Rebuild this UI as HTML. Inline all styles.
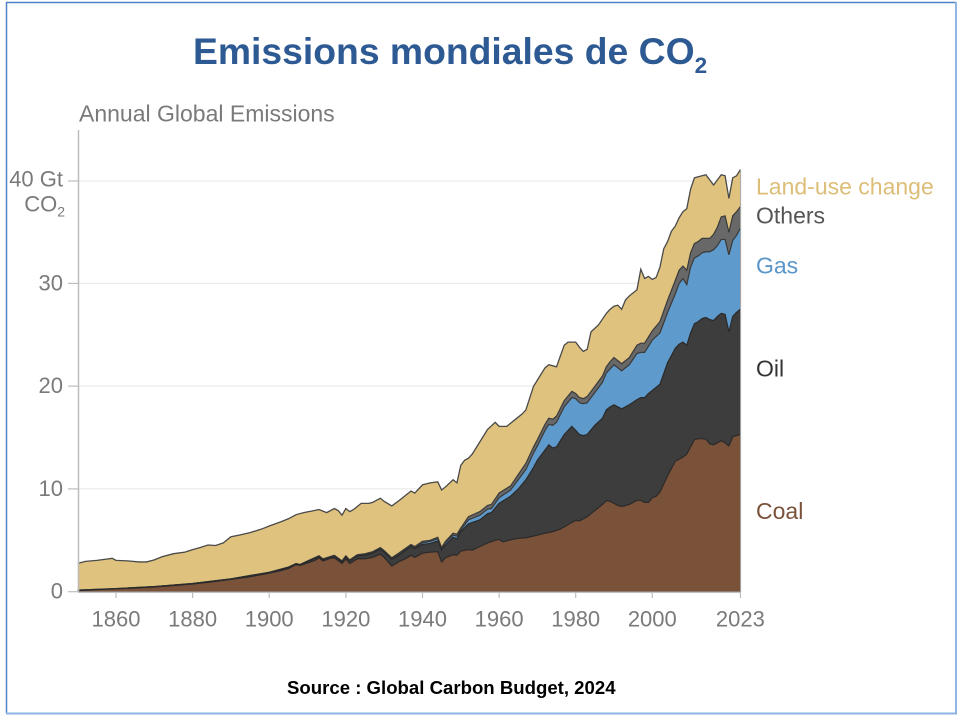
<!DOCTYPE html>
<html>
<head>
<meta charset="utf-8">
<style>
  html, body { margin:0; padding:0; background:#fff; }
  body { width:960px; height:720px; overflow:hidden; }
  svg { display:block; }
  .t { font-family:"Liberation Sans", Arial, sans-serif; }
</style>
</head>
<body>
<svg width="960" height="720" viewBox="0 0 960 720" xmlns="http://www.w3.org/2000/svg">
  <!-- frame -->
  <rect x="0" y="0" width="960" height="720" fill="#ffffff"/>
  <line x1="6" y1="2.5" x2="956" y2="2.5" stroke="#4F81C7" stroke-width="1.5"/>
  <line x1="6.5" y1="2" x2="6.5" y2="713" stroke="#4F81C7" stroke-width="1.5"/>
  <line x1="956" y1="2" x2="956" y2="714" stroke="#8FB3E3" stroke-width="2"/>
  <line x1="6" y1="713.5" x2="957" y2="713.5" stroke="#8FB3E3" stroke-width="2"/>

  <!-- title -->
  <text class="t" x="193" y="64" font-size="37.3" font-weight="bold" fill="#2E5A94">Emissions mondiales de CO<tspan font-size="22.5" dy="9">2</tspan></text>

  <!-- subtitle -->
  <text class="t" x="79" y="121.7" font-size="23" fill="#7a7a7a">Annual Global Emissions</text>

  <!-- gridlines -->
  <g stroke="#ececec" stroke-width="1.2">
    <line x1="79" y1="181" x2="740" y2="181"/>
    <line x1="79" y1="283.4" x2="740" y2="283.4"/>
    <line x1="79" y1="386.1" x2="740" y2="386.1"/>
    <line x1="79" y1="488.9" x2="740" y2="488.9"/>
  </g>

  <!-- stacked areas -->
  <g transform="matrix(3.8306 0 0 -10.27 -7008.91 591.7)">
    <!-- Land-use change (total) -->
    <polygon fill="#DFC27E" points="1850,0 1850,2.76 1852,2.95 1855,3.05 1858,3.2 1859,3.25 1860,3.05 1863,3.0 1866,2.9 1868,2.9 1870,3.1 1872,3.4 1875,3.7 1878,3.85 1880,4.1 1882,4.3 1884,4.55 1886,4.5 1888,4.75 1890,5.35 1892,5.5 1895,5.75 1898,6.1 1900,6.4 1903,6.8 1905,7.1 1907,7.5 1909,7.7 1911,7.85 1913,8.0 1915,7.7 1917,8.1 1918,7.9 1919,7.45 1920,8.1 1921,7.8 1922,8.0 1924,8.6 1926,8.6 1927,8.7 1928,8.9 1929,9.1 1930,8.8 1932,8.35 1934,8.9 1936,9.5 1937,9.8 1938,9.6 1940,10.4 1942,10.6 1944,10.7 1945,9.9 1946,10.2 1948,10.9 1949,10.6 1950,12.3 1951,12.8 1952,13.0 1953,13.4 1955,14.6 1957,15.8 1959,16.5 1960,16.1 1962,16.1 1964,16.7 1966,17.3 1967,17.7 1969,20.0 1970,20.6 1972,21.8 1973,22.1 1975,21.9 1977,24.0 1978,24.3 1980,24.3 1981,23.8 1982,23.4 1983,23.6 1984,25.3 1986,26.0 1988,27.1 1989,27.5 1990,27.8 1991,27.9 1992,27.5 1993,28.4 1994,28.8 1995,29.1 1996,29.4 1997,31.4 1998,30.5 1999,30.7 2000,30.4 2001,30.6 2002,31.6 2003,33.4 2004,34.1 2005,35.1 2006,35.6 2007,36.4 2008,37.0 2009,37.3 2010,39.2 2011,40.3 2012,40.4 2013,40.5 2014,40.6 2015,40.1 2016,39.6 2017,40.1 2018,40.6 2019,40.5 2020,38.3 2021,40.3 2022,40.5 2023,41.1 2023,0"/>
    <polyline fill="none" stroke="#4a4a4a" stroke-width="1.3" vector-effect="non-scaling-stroke" points="1850,2.76 1852,2.95 1855,3.05 1858,3.2 1859,3.25 1860,3.05 1863,3.0 1866,2.9 1868,2.9 1870,3.1 1872,3.4 1875,3.7 1878,3.85 1880,4.1 1882,4.3 1884,4.55 1886,4.5 1888,4.75 1890,5.35 1892,5.5 1895,5.75 1898,6.1 1900,6.4 1903,6.8 1905,7.1 1907,7.5 1909,7.7 1911,7.85 1913,8.0 1915,7.7 1917,8.1 1918,7.9 1919,7.45 1920,8.1 1921,7.8 1922,8.0 1924,8.6 1926,8.6 1927,8.7 1928,8.9 1929,9.1 1930,8.8 1932,8.35 1934,8.9 1936,9.5 1937,9.8 1938,9.6 1940,10.4 1942,10.6 1944,10.7 1945,9.9 1946,10.2 1948,10.9 1949,10.6 1950,12.3 1951,12.8 1952,13.0 1953,13.4 1955,14.6 1957,15.8 1959,16.5 1960,16.1 1962,16.1 1964,16.7 1966,17.3 1967,17.7 1969,20.0 1970,20.6 1972,21.8 1973,22.1 1975,21.9 1977,24.0 1978,24.3 1980,24.3 1981,23.8 1982,23.4 1983,23.6 1984,25.3 1986,26.0 1988,27.1 1989,27.5 1990,27.8 1991,27.9 1992,27.5 1993,28.4 1994,28.8 1995,29.1 1996,29.4 1997,31.4 1998,30.5 1999,30.7 2000,30.4 2001,30.6 2002,31.6 2003,33.4 2004,34.1 2005,35.1 2006,35.6 2007,36.4 2008,37.0 2009,37.3 2010,39.2 2011,40.3 2012,40.4 2013,40.5 2014,40.6 2015,40.1 2016,39.6 2017,40.1 2018,40.6 2019,40.5 2020,38.3 2021,40.3 2022,40.5 2023,41.1"/>

    <!-- Others -->
    <polygon fill="#686868" points="1850,0 1850,0.15 1860,0.3 1870,0.5 1880,0.8 1890,1.25 1900,1.9 1905,2.4 1907,2.75 1908,2.65 1910,3.0 1913,3.5 1914,3.2 1917,3.55 1919,3.0 1920,3.5 1921,3.1 1923,3.6 1925,3.7 1927,3.9 1929,4.3 1930,4.0 1932,3.3 1934,3.8 1937,4.6 1938,4.4 1940,4.9 1942,5.0 1944,5.3 1945,4.3 1946,4.9 1948,5.7 1949,5.6 1950,6.2 1952,7.3 1955,7.8 1957,8.4 1958,8.5 1960,9.6 1963,10.3 1965,11.4 1967,12.5 1969,14.1 1970,14.8 1972,16.3 1973,16.9 1974,16.8 1975,17.1 1977,18.6 1979,19.5 1980,19.3 1981,18.9 1982,18.8 1983,19.0 1985,20.0 1987,21.0 1988,21.9 1989,22.4 1990,22.8 1991,22.5 1992,22.2 1994,22.8 1996,24.0 1997,24.2 1998,24.2 1999,24.8 2000,25.4 2002,26.3 2004,28.4 2006,30.3 2007,31.3 2008,31.7 2009,31.3 2010,33.0 2011,33.9 2012,34.1 2013,34.4 2014,34.4 2015,34.4 2016,34.8 2017,35.5 2018,36.5 2019,36.6 2020,35.0 2021,36.6 2022,37.0 2023,37.5 2023,0"/>
    <polyline fill="none" stroke="#3a3a3a" stroke-width="1.2" vector-effect="non-scaling-stroke" points="1850,0.15 1860,0.3 1870,0.5 1880,0.8 1890,1.25 1900,1.9 1905,2.4 1907,2.75 1908,2.65 1910,3.0 1913,3.5 1914,3.2 1917,3.55 1919,3.0 1920,3.5 1921,3.1 1923,3.6 1925,3.7 1927,3.9 1929,4.3 1930,4.0 1932,3.3 1934,3.8 1937,4.6 1938,4.4 1940,4.9 1942,5.0 1944,5.3 1945,4.3 1946,4.9 1948,5.7 1949,5.6 1950,6.2 1952,7.3 1955,7.8 1957,8.4 1958,8.5 1960,9.6 1963,10.3 1965,11.4 1967,12.5 1969,14.1 1970,14.8 1972,16.3 1973,16.9 1974,16.8 1975,17.1 1977,18.6 1979,19.5 1980,19.3 1981,18.9 1982,18.8 1983,19.0 1985,20.0 1987,21.0 1988,21.9 1989,22.4 1990,22.8 1991,22.5 1992,22.2 1994,22.8 1996,24.0 1997,24.2 1998,24.2 1999,24.8 2000,25.4 2002,26.3 2004,28.4 2006,30.3 2007,31.3 2008,31.7 2009,31.3 2010,33.0 2011,33.9 2012,34.1 2013,34.4 2014,34.4 2015,34.4 2016,34.8 2017,35.5 2018,36.5 2019,36.6 2020,35.0 2021,36.6 2022,37.0 2023,37.5"/>

    <!-- Gas -->
    <polygon fill="#5E9ACB" points="1850,0 1850,0.15 1860,0.3 1870,0.5 1880,0.8 1890,1.25 1900,1.88 1905,2.38 1907,2.72 1908,2.62 1910,2.97 1913,3.46 1914,3.16 1917,3.5 1919,2.95 1920,3.45 1921,3.05 1923,3.55 1925,3.63 1927,3.83 1929,4.2 1930,3.9 1932,3.2 1934,3.7 1937,4.48 1938,4.28 1940,4.75 1942,4.9 1944,5.15 1945,4.2 1946,4.75 1948,5.5 1949,5.4 1950,6.0 1952,7.0 1955,7.45 1957,8.05 1958,8.1 1960,9.15 1963,9.9 1965,10.9 1967,11.9 1969,13.5 1970,14.2 1972,15.7 1973,16.3 1974,16.2 1975,16.5 1977,18.0 1979,18.9 1980,18.8 1981,18.4 1982,18.3 1983,18.4 1985,19.4 1987,20.4 1988,21.3 1989,21.7 1990,22.1 1991,21.8 1992,21.5 1994,22.1 1996,23.2 1997,23.3 1998,23.3 1999,23.9 2000,24.5 2002,25.2 2004,27.2 2006,29.0 2007,30.0 2008,30.5 2009,29.9 2010,31.6 2011,32.5 2012,32.7 2013,33.0 2014,33.1 2015,33.1 2016,33.3 2017,33.7 2018,34.3 2019,34.3 2020,32.8 2021,34.2 2022,34.7 2023,35.4 2023,0"/>
    <polyline fill="none" stroke="#3a3a3a" stroke-width="1.2" vector-effect="non-scaling-stroke" points="1850,0.15 1860,0.3 1870,0.5 1880,0.8 1890,1.25 1900,1.88 1905,2.38 1907,2.72 1908,2.62 1910,2.97 1913,3.46 1914,3.16 1917,3.5 1919,2.95 1920,3.45 1921,3.05 1923,3.55 1925,3.63 1927,3.83 1929,4.2 1930,3.9 1932,3.2 1934,3.7 1937,4.48 1938,4.28 1940,4.75 1942,4.9 1944,5.15 1945,4.2 1946,4.75 1948,5.5 1949,5.4 1950,6.0 1952,7.0 1955,7.45 1957,8.05 1958,8.1 1960,9.15 1963,9.9 1965,10.9 1967,11.9 1969,13.5 1970,14.2 1972,15.7 1973,16.3 1974,16.2 1975,16.5 1977,18.0 1979,18.9 1980,18.8 1981,18.4 1982,18.3 1983,18.4 1985,19.4 1987,20.4 1988,21.3 1989,21.7 1990,22.1 1991,21.8 1992,21.5 1994,22.1 1996,23.2 1997,23.3 1998,23.3 1999,23.9 2000,24.5 2002,25.2 2004,27.2 2006,29.0 2007,30.0 2008,30.5 2009,29.9 2010,31.6 2011,32.5 2012,32.7 2013,33.0 2014,33.1 2015,33.1 2016,33.3 2017,33.7 2018,34.3 2019,34.3 2020,32.8 2021,34.2 2022,34.7 2023,35.4"/>

    <!-- Oil -->
    <polygon fill="#3D3D3D" points="1850,0 1850,0.12 1860,0.28 1870,0.48 1880,0.78 1890,1.22 1900,1.85 1905,2.35 1907,2.7 1908,2.6 1910,2.93 1913,3.4 1914,3.1 1917,3.45 1919,2.9 1920,3.4 1921,3.0 1923,3.5 1925,3.55 1927,3.75 1929,4.15 1930,3.85 1932,3.15 1934,3.6 1937,4.4 1938,4.2 1940,4.6 1942,4.7 1944,4.95 1945,4.05 1946,4.55 1948,5.3 1949,5.15 1950,5.85 1952,6.6 1955,7.0 1957,7.6 1958,7.7 1960,8.6 1963,9.3 1965,10.0 1967,10.9 1969,12.1 1970,12.8 1972,13.8 1973,14.3 1974,14.0 1975,14.1 1977,15.3 1979,16.1 1980,15.7 1981,15.3 1982,15.2 1983,15.3 1985,16.2 1987,16.9 1988,17.7 1989,18.0 1990,18.2 1991,18.0 1992,17.8 1994,18.2 1996,18.7 1997,18.9 1998,18.9 1999,19.3 2000,19.6 2002,20.2 2004,22.3 2006,23.7 2007,24.1 2008,24.3 2009,24.0 2010,25.2 2011,26.1 2012,26.3 2013,26.6 2014,26.7 2015,26.5 2016,26.4 2017,26.8 2018,27.1 2019,27.0 2020,25.3 2021,26.8 2022,27.2 2023,27.5 2023,0"/>
    <polyline fill="none" stroke="#2a2a2a" stroke-width="1.2" vector-effect="non-scaling-stroke" points="1850,0.12 1860,0.28 1870,0.48 1880,0.78 1890,1.22 1900,1.85 1905,2.35 1907,2.7 1908,2.6 1910,2.93 1913,3.4 1914,3.1 1917,3.45 1919,2.9 1920,3.4 1921,3.0 1923,3.5 1925,3.55 1927,3.75 1929,4.15 1930,3.85 1932,3.15 1934,3.6 1937,4.4 1938,4.2 1940,4.6 1942,4.7 1944,4.95 1945,4.05 1946,4.55 1948,5.3 1949,5.15 1950,5.85 1952,6.6 1955,7.0 1957,7.6 1958,7.7 1960,8.6 1963,9.3 1965,10.0 1967,10.9 1969,12.1 1970,12.8 1972,13.8 1973,14.3 1974,14.0 1975,14.1 1977,15.3 1979,16.1 1980,15.7 1981,15.3 1982,15.2 1983,15.3 1985,16.2 1987,16.9 1988,17.7 1989,18.0 1990,18.2 1991,18.0 1992,17.8 1994,18.2 1996,18.7 1997,18.9 1998,18.9 1999,19.3 2000,19.6 2002,20.2 2004,22.3 2006,23.7 2007,24.1 2008,24.3 2009,24.0 2010,25.2 2011,26.1 2012,26.3 2013,26.6 2014,26.7 2015,26.5 2016,26.4 2017,26.8 2018,27.1 2019,27.0 2020,25.3 2021,26.8 2022,27.2 2023,27.5"/>

    <!-- Coal -->
    <polygon fill="#7A5139" points="1850,0 1850,0.1 1855,0.2 1860,0.28 1865,0.36 1870,0.45 1875,0.6 1880,0.75 1885,0.95 1890,1.2 1895,1.45 1900,1.8 1903,2.05 1905,2.25 1907,2.65 1908,2.55 1910,2.8 1912,3.05 1913,3.3 1914,3.0 1916,3.25 1917,3.3 1919,2.75 1920,3.2 1921,2.75 1923,3.2 1925,3.2 1927,3.35 1929,3.65 1930,3.35 1932,2.5 1934,2.95 1936,3.3 1937,3.55 1938,3.35 1940,3.75 1942,3.85 1944,3.9 1945,2.9 1946,3.3 1948,3.6 1949,3.55 1950,3.95 1952,4.1 1953,4.05 1955,4.4 1957,4.75 1959,5.0 1960,5.1 1961,4.85 1963,5.05 1965,5.2 1967,5.25 1970,5.5 1972,5.7 1974,5.85 1976,6.1 1979,6.75 1980,6.95 1981,6.9 1982,7.1 1983,7.3 1985,7.9 1987,8.5 1988,8.85 1989,8.8 1990,8.6 1991,8.4 1992,8.3 1994,8.5 1996,8.9 1997,8.9 1998,8.7 1999,8.7 2000,9.15 2001,9.3 2002,9.7 2003,10.5 2004,11.3 2005,12.0 2006,12.7 2007,12.9 2008,13.1 2009,13.4 2010,14.1 2011,14.8 2012,14.9 2013,14.9 2014,14.85 2015,14.4 2016,14.3 2017,14.5 2018,14.7 2019,14.5 2020,14.2 2021,15.1 2022,15.2 2023,15.3 2023,0"/>
    <polyline fill="none" stroke="#2a2a2a" stroke-width="1.2" vector-effect="non-scaling-stroke" points="1850,0.1 1855,0.2 1860,0.28 1865,0.36 1870,0.45 1875,0.6 1880,0.75 1885,0.95 1890,1.2 1895,1.45 1900,1.8 1903,2.05 1905,2.25 1907,2.65 1908,2.55 1910,2.8 1912,3.05 1913,3.3 1914,3.0 1916,3.25 1917,3.3 1919,2.75 1920,3.2 1921,2.75 1923,3.2 1925,3.2 1927,3.35 1929,3.65 1930,3.35 1932,2.5 1934,2.95 1936,3.3 1937,3.55 1938,3.35 1940,3.75 1942,3.85 1944,3.9 1945,2.9 1946,3.3 1948,3.6 1949,3.55 1950,3.95 1952,4.1 1953,4.05 1955,4.4 1957,4.75 1959,5.0 1960,5.1 1961,4.85 1963,5.05 1965,5.2 1967,5.25 1970,5.5 1972,5.7 1974,5.85 1976,6.1 1979,6.75 1980,6.95 1981,6.9 1982,7.1 1983,7.3 1985,7.9 1987,8.5 1988,8.85 1989,8.8 1990,8.6 1991,8.4 1992,8.3 1994,8.5 1996,8.9 1997,8.9 1998,8.7 1999,8.7 2000,9.15 2001,9.3 2002,9.7 2003,10.5 2004,11.3 2005,12.0 2006,12.7 2007,12.9 2008,13.1 2009,13.4 2010,14.1 2011,14.8 2012,14.9 2013,14.9 2014,14.85 2015,14.4 2016,14.3 2017,14.5 2018,14.7 2019,14.5 2020,14.2 2021,15.1 2022,15.2 2023,15.3"/>
  </g>

  <!-- right edge line -->
  <line x1="740.6" y1="170" x2="740.6" y2="592" stroke="#a8a8a8" stroke-width="1"/>

  <!-- axes -->
  <line x1="78.5" y1="130" x2="78.5" y2="592" stroke="#bdbdbd" stroke-width="1.5"/>
  <line x1="78" y1="592" x2="741" y2="592" stroke="#9a9a9a" stroke-width="1.3"/>
  <g stroke="#bdbdbd" stroke-width="1.2">
    <line x1="68" y1="181" x2="78" y2="181"/>
    <line x1="68" y1="283.4" x2="78" y2="283.4"/>
    <line x1="68" y1="386.1" x2="78" y2="386.1"/>
    <line x1="68" y1="488.9" x2="78" y2="488.9"/>
    <line x1="68" y1="591.7" x2="78" y2="591.7"/>
  </g>
  <g stroke="#bdbdbd" stroke-width="1.2">
    <line x1="116" y1="592" x2="116" y2="598"/>
    <line x1="192.6" y1="592" x2="192.6" y2="598"/>
    <line x1="269.2" y1="592" x2="269.2" y2="598"/>
    <line x1="345.9" y1="592" x2="345.9" y2="598"/>
    <line x1="422.5" y1="592" x2="422.5" y2="598"/>
    <line x1="499.1" y1="592" x2="499.1" y2="598"/>
    <line x1="575.7" y1="592" x2="575.7" y2="598"/>
    <line x1="652.3" y1="592" x2="652.3" y2="598"/>
    <line x1="740.4" y1="592" x2="740.4" y2="598"/>
  </g>

  <!-- y labels -->
  <g class="t" font-size="22" fill="#7a7a7a" text-anchor="end">
    <text x="63" y="186.7">40 Gt</text>
    <text x="65" y="211.7">CO<tspan font-size="14" dy="5">2</tspan></text>
    <text x="63" y="290.7">30</text>
    <text x="63" y="392.8">20</text>
    <text x="63" y="496">10</text>
    <text x="63" y="598.5">0</text>
  </g>

  <!-- x labels -->
  <g class="t" font-size="22" fill="#7a7a7a" text-anchor="middle">
    <text x="116" y="626.7">1860</text>
    <text x="192.6" y="626.7">1880</text>
    <text x="269.2" y="626.7">1900</text>
    <text x="345.9" y="626.7">1920</text>
    <text x="422.5" y="626.7">1940</text>
    <text x="499.1" y="626.7">1960</text>
    <text x="575.7" y="626.7">1980</text>
    <text x="652.3" y="626.7">2000</text>
    <text x="740.4" y="626.7">2023</text>
  </g>

  <!-- series labels -->
  <g class="t" font-size="23">
    <text x="756" y="194.3" fill="#DDBE78">Land-use change</text>
    <text x="756" y="223.3" fill="#555555">Others</text>
    <text x="756" y="273.3" fill="#5A96C9">Gas</text>
    <text x="756" y="376.7" fill="#333333">Oil</text>
    <text x="756" y="519" fill="#7A5139">Coal</text>
  </g>

  <!-- source -->
  <text class="t" x="287" y="694" font-size="18.6" font-weight="bold" fill="#000">Source : Global Carbon Budget, 2024</text>
</svg>
</body>
</html>
